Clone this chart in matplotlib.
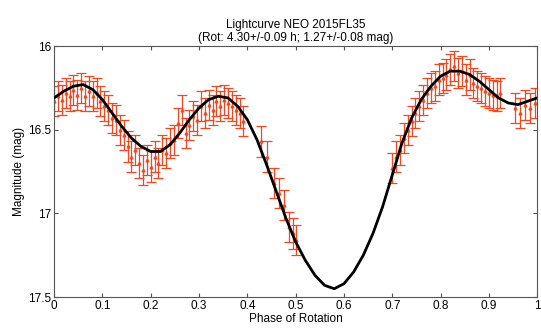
import matplotlib.pyplot as plt

plt.rcParams["font.family"] = ["Liberation Sans", "DejaVu Sans"]

# fitted lightcurve (every 0.02 in phase)
fit_phase = [i / 50 for i in range(51)]
fit_mag = [16.31, 16.27, 16.24, 16.23, 16.26, 16.32, 16.40, 16.48, 16.55, 16.60,
           16.63, 16.63, 16.59, 16.52, 16.44, 16.37, 16.32, 16.30, 16.31, 16.36,
           16.44, 16.56, 16.71, 16.87, 17.03, 17.17, 17.28, 17.37, 17.43, 17.45,
           17.42, 17.35, 17.25, 17.12, 16.96, 16.77, 16.58, 16.43, 16.32, 16.24,
           16.18, 16.15, 16.15, 16.17, 16.21, 16.26, 16.31, 16.34, 16.35, 16.33,
           16.31]

# observations
obs_phase = [0.000, 0.008, 0.016, 0.024, 0.032, 0.040, 0.048, 0.056, 0.064, 0.072,
             0.080, 0.088, 0.096, 0.104, 0.112, 0.120, 0.128, 0.136, 0.144, 0.152,
             0.160, 0.168, 0.176, 0.184, 0.192, 0.200, 0.208, 0.216, 0.224, 0.232,
             0.240, 0.248, 0.256, 0.264, 0.272, 0.280, 0.288, 0.296, 0.304, 0.312,
             0.320, 0.328, 0.336, 0.344, 0.352, 0.360, 0.368, 0.376, 0.384, 0.392,
             0.428, 0.440, 0.456, 0.466, 0.476, 0.486, 0.494, 0.500,
             0.700, 0.708, 0.716, 0.724, 0.732, 0.740, 0.748, 0.756, 0.764, 0.772,
             0.780, 0.788, 0.796, 0.804, 0.812, 0.820, 0.828, 0.836, 0.844, 0.852,
             0.860, 0.868, 0.876, 0.884, 0.892, 0.900, 0.908, 0.916, 0.924,
             0.955, 0.965, 0.975, 0.985, 0.995]
obs_mag = [16.33, 16.30, 16.32, 16.28, 16.30, 16.26, 16.29, 16.25, 16.30, 16.27,
           16.30, 16.28, 16.33, 16.36, 16.38, 16.43, 16.44, 16.50, 16.53, 16.60,
           16.66, 16.62, 16.70, 16.74, 16.68, 16.72, 16.66, 16.70, 16.62, 16.64,
           16.58, 16.56, 16.46, 16.38, 16.52, 16.47, 16.42, 16.44, 16.36, 16.40,
           16.35, 16.38, 16.33, 16.36, 16.32, 16.34, 16.36, 16.38, 16.40, 16.45,
           16.57, 16.66, 16.82, 16.88, 16.95, 17.08, 17.12, 17.16,
           16.73, 16.66, 16.62, 16.55, 16.50, 16.45, 16.40, 16.36, 16.32, 16.28,
           16.25, 16.24, 16.20, 16.19, 16.17, 16.14, 16.12, 16.16, 16.15, 16.20,
           16.17, 16.22, 16.24, 16.25, 16.27, 16.28, 16.29, 16.30, 16.28,
           16.37, 16.40, 16.35, 16.37, 16.34]
obs_err = [0.09] * len(obs_mag)

fig = plt.figure(figsize=(5.41, 3.29), dpi=100)
ax = fig.add_axes([0.1, 0.097, 0.893, 0.763])

ax.errorbar(obs_phase, obs_mag, yerr=obs_err, fmt="^", ms=2, color="#ee4a22",
            ecolor="#ee4a22", elinewidth=0.9, capsize=3.5, capthick=0.9, zorder=2)
ax.plot(fit_phase, fit_mag, color="black", lw=2.0, solid_joinstyle="round", zorder=3)

ax.set_xlim(0, 1)
ax.set_ylim(17.5, 16)
ax.set_xticks([i / 10 for i in range(11)])
ax.set_xticklabels(["0", "0.1", "0.2", "0.3", "0.4", "0.5", "0.6", "0.7", "0.8", "0.9", "1"])
ax.set_yticks([16, 16.5, 17, 17.5])
ax.set_yticklabels(["16", "16.5", "17", "17.5"])
ax.tick_params(direction="in", top=True, right=True, labelsize=8.5, length=3,
               color="#555555", pad=2)
for s in ax.spines.values():
    s.set_color("#555555")

ax.set_xlabel("Phase of Rotation", fontsize=8.5, labelpad=1)
ax.set_ylabel("Magnitude (mag)", fontsize=8.5, labelpad=2)
ax.set_title("Lightcurve NEO 2015FL35\n(Rot: 4.30+/-0.09 h; 1.27+/-0.08 mag)",
             fontsize=8.5, pad=4, linespacing=1.1)

plt.savefig("out.png", dpi=100)
plt.close()
